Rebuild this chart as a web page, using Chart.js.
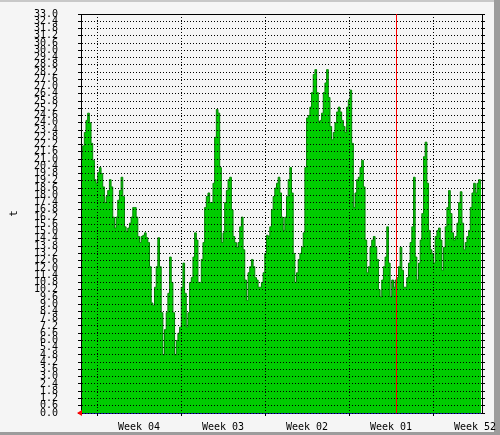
<!DOCTYPE html>
<html>
<head>
<meta charset="utf-8">
<script src="https://cdn.jsdelivr.net/npm/chart.js@4"></script>
<style>
  html, body { margin: 0; padding: 0; background: #f5f5f5; }
</style>
</head>
<body>
<canvas id="chart" width="500" height="435"></canvas>
<script>
// samples, oldest week on the left (axis runs Week 04 -> Week 52)
const values = [
  21.2, 22.1, 23.2, 24.2, 24.8, 24.0, 22.3, 20.9, 19.3, 19.0, 19.9, 20.3, 19.8, 18.7, 17.4, 17.9, 18.4, 19.3, 18.7, 16.2,
  15.3, 16.2, 17.6, 18.4, 19.5, 17.9, 15.4, 15.0, 15.3, 15.7, 16.2, 17.0, 17.0, 16.2, 14.6, 14.1, 14.6, 14.7, 14.9, 14.5,
  14.1, 12.1, 9.1, 8.9, 10.4, 12.1, 14.5, 12.1, 8.3, 4.8, 6.9, 8.3, 9.9, 12.9, 10.8, 8.3, 4.8, 6.0, 6.6,
  7.1, 10.4, 12.4, 9.9, 7.1, 8.3, 10.8, 11.2, 12.9, 14.9, 14.3, 10.8, 10.8, 12.7, 14.1, 17.0, 17.9, 18.2, 17.4, 17.4,
  19.0, 22.8, 25.1, 24.8, 20.3, 14.1, 14.9, 17.4, 18.4, 19.3, 19.5, 16.8, 14.6, 14.1, 13.7, 14.1, 15.4, 16.2, 13.5, 11.0,
  9.3, 11.6, 12.1, 12.7, 12.1, 11.2, 11.0, 10.4, 10.4, 10.8, 11.6, 13.2, 14.7, 14.6, 15.4, 16.8, 17.9, 18.6, 19.0,
  19.5, 18.2, 16.2, 15.1, 16.2, 17.9, 19.3, 20.3, 18.2, 13.2, 10.8, 11.6, 12.7, 13.2, 13.7, 14.9, 20.3, 24.4, 24.6, 25.3,
  26.5, 28.0, 28.4, 26.5, 24.1, 24.2, 24.8, 26.5, 27.3, 28.4, 26.1, 23.7, 22.6, 23.2, 24.0, 24.9, 25.3, 24.9, 24.2, 23.7,
  23.2, 25.3, 25.9, 26.7, 22.3, 17.0, 18.2, 19.3, 19.5, 20.3, 20.9, 18.7, 14.3, 11.6, 12.1, 13.7, 14.3, 14.6, 13.7, 12.7,
  10.2,
  9.6, 11.0, 12.1, 12.9, 15.4, 12.4, 9.6, 11.0, 10.4, 11.0, 11.2, 12.1, 13.7, 11.8, 10.4, 10.4, 11.2, 12.4, 14.1, 15.4,
  19.5, 12.9, 11.0, 12.4, 14.3, 16.5, 21.2, 22.4, 19.0, 15.1, 13.5, 13.2, 12.4, 14.6, 15.1, 15.3, 14.3, 11.8, 13.7, 15.4,
  17.0, 18.4, 16.5, 14.9, 14.3, 14.6, 15.7, 17.4, 18.3, 15.7, 13.5, 14.1, 14.6, 15.1, 17.0, 18.2, 19.0, 18.2, 19.0, 19.3,
  19.0
];

// time axis, in hours from the left edge
const spanHours = 802;
const weekLines = [32, 200, 368, 536, 704];
const weekLabels = ["Week 04", "Week 03", "Week 02", "Week 01", "Week 52"];
const labelHours = weekLines.map(h => h + 84);
const markerHour = 630;

const yTicks = [];
for (let i = 0; i <= 55; i++) yTicks.push(+(i * 0.6).toFixed(1));

const step = spanHours / values.length;
const points = values.map((v, i) => ({ x: (i + 0.5) * step, y: v }));
const xTicks = weekLines.concat(labelHours).sort((a, b) => a - b);

const mono = { family: "DejaVu Sans Mono", size: 10 };

const decor = {
  id: "decor",
  beforeDraw(chart) {
    const c = chart.ctx;
    c.save();
    c.fillStyle = "#f5f5f5";
    c.fillRect(0, 0, chart.width, chart.height);
    c.fillStyle = "#c8c8c8";
    c.fillRect(0, 0, chart.width, 2);
    c.fillStyle = "#9c9c9c";
    c.fillRect(chart.width - 6, 0, 6, chart.height);
    c.fillRect(0, chart.height - 3, chart.width, 3);
    c.restore();
  },
  afterDraw(chart) {
    const { ctx, chartArea: a, scales } = chart;
    ctx.save();
    ctx.lineWidth = 1;
    ctx.strokeStyle = "#000";
    ctx.beginPath();
    ctx.moveTo(a.left, a.top + 0.5);
    ctx.lineTo(a.right, a.top + 0.5);
    ctx.stroke();
    // red marker line
    const mx = Math.round(scales.x.getPixelForValue(markerHour)) + 0.5;
    ctx.strokeStyle = "#ff0000";
    ctx.beginPath();
    ctx.moveTo(mx, a.top);
    ctx.lineTo(mx, a.bottom);
    ctx.stroke();
    // arrow on the time axis
    ctx.fillStyle = "#ff0000";
    ctx.beginPath();
    ctx.moveTo(a.left - 4, a.bottom);
    ctx.lineTo(a.left + 1, a.bottom - 3);
    ctx.lineTo(a.left + 1, a.bottom + 3);
    ctx.closePath();
    ctx.fill();
    ctx.restore();
  }
};

new Chart(document.getElementById("chart"), {
  type: "line",
  data: {
    datasets: [{
      data: points,
      stepped: "middle",
      fill: "origin",
      backgroundColor: "#00cc00",
      borderColor: "#008000",
      borderWidth: 1,
      pointRadius: 0
    }]
  },
  options: {
    responsive: false,
    animation: false,
    layout: { padding: { top: 14, left: 0, right: 0, bottom: 0 } },
    plugins: { legend: { display: false }, tooltip: { enabled: false } },
    scales: {
      x: {
        type: "linear",
        min: 0,
        max: spanHours,
        afterBuildTicks: s => { s.ticks = xTicks.map(v => ({ value: v })); },
        afterFit: s => { s.height = 22; s.paddingLeft = 0; s.paddingRight = 0; },
        ticks: {
          autoSkip: false,
          maxRotation: 0,
          padding: 5,
          color: "#000",
          font: mono,
          callback: v => {
            const i = labelHours.indexOf(v);
            return i >= 0 ? weekLabels[i] : "";
          }
        },
        grid: {
          z: 1,
          tickLength: 3,
          color: ctx => (ctx.tick && weekLines.includes(ctx.tick.value)) ? "#000" : "rgba(0,0,0,0)",
          tickColor: ctx => (ctx.tick && weekLines.includes(ctx.tick.value)) ? "#000" : "rgba(0,0,0,0)"
        },
        border: { z: 1, color: "#1a1aa0", dash: [1, 2] }
      },
      y: {
        min: 0,
        max: 33,
        afterBuildTicks: s => { s.ticks = yTicks.map(v => ({ value: v })); },
        afterFit: s => { s.width = 81; s.paddingTop = 0; s.paddingBottom = 0; },
        ticks: {
          autoSkip: false,
          padding: 20,
          color: "#000",
          font: mono,
          callback: v => Number(v).toFixed(1)
        },
        grid: { z: 1, color: "#000", tickLength: 3 },
        border: { z: 1, color: "#000", dash: [1, 2] },
        title: {
          display: true,
          text: "t",
          color: "#000",
          font: { family: "DejaVu Sans Mono", size: 11 },
          padding: { top: 8, bottom: 0 }
        }
      },
      yr: {
        position: "right",
        min: 0,
        max: 33,
        afterBuildTicks: s => { s.ticks = yTicks.map(v => ({ value: v })); },
        afterFit: s => { s.width = 18; s.paddingTop = 0; s.paddingBottom = 0; },
        ticks: { display: false },
        grid: { z: 1, drawOnChartArea: false, color: "#000", tickLength: 3 },
        border: { z: 1, color: "#000" }
      }
    }
  },
  plugins: [decor]
});
</script>
</body>
</html>
